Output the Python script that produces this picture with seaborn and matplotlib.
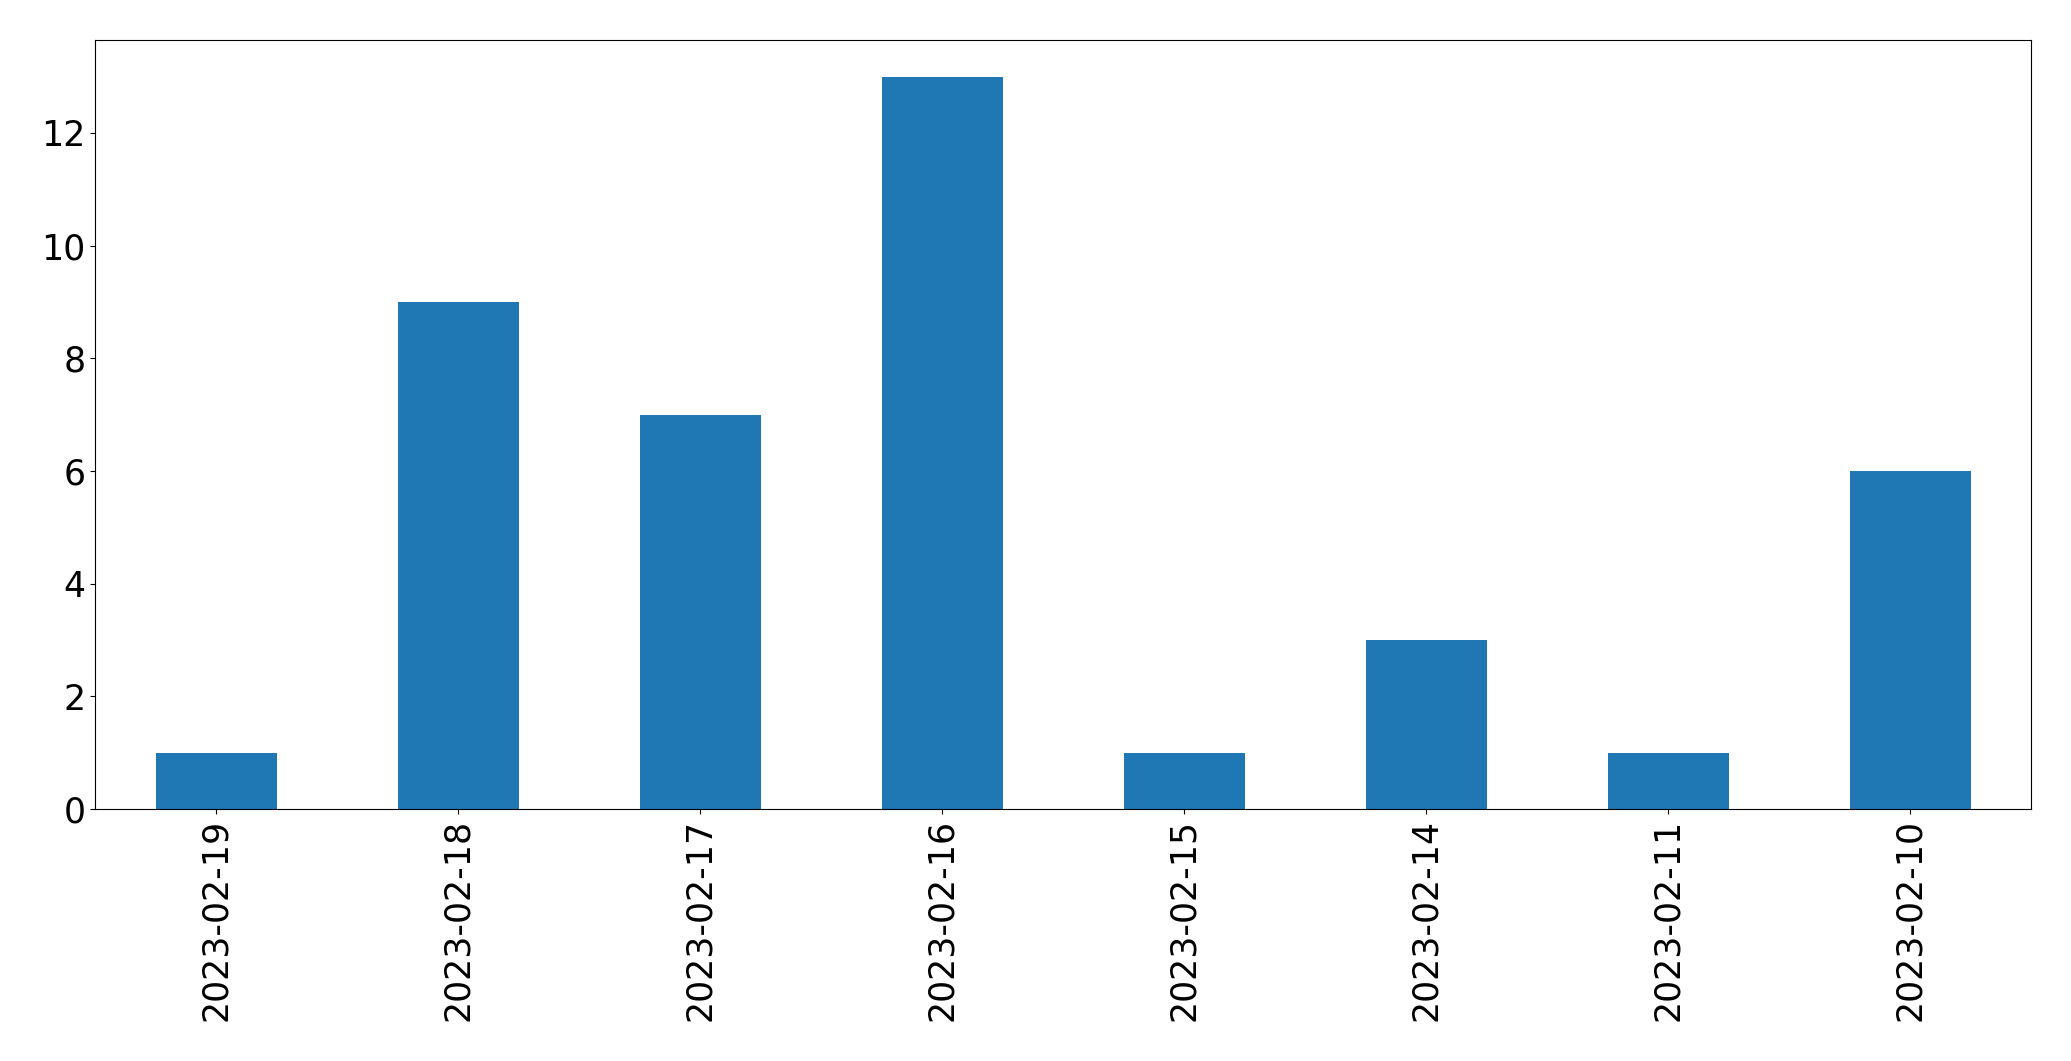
import matplotlib
matplotlib.use("Agg")
import matplotlib.pyplot as plt
import seaborn as sns
import pandas as pd

dates = ["2023-02-19", "2023-02-18", "2023-02-17", "2023-02-16",
         "2023-02-15", "2023-02-14", "2023-02-11", "2023-02-10"]
counts = [1, 9, 7, 13, 1, 3, 1, 6]

df = pd.DataFrame({"date": dates, "count": counts})

fig = plt.figure(figsize=(20.71, 10.61), dpi=100)
ax = fig.add_axes([95 / 2071, 1 - 809 / 1061, (2031 - 95) / 2071, (809 - 40) / 1061])
sns.barplot(data=df, x="date", y="count", order=dates, color="#1f77b4",
            saturation=1, width=0.5, linewidth=0, edgecolor="none", ax=ax)
ax.set_xlim(-0.5, len(dates) - 0.5)
ax.set_ylim(0, max(counts) * 1.05)
ax.set_xlabel("")
ax.set_ylabel("")
ax.tick_params(axis="both", labelsize=25)
ax.tick_params(axis="x", labelrotation=90)
fig.savefig("out.png", dpi=100)
